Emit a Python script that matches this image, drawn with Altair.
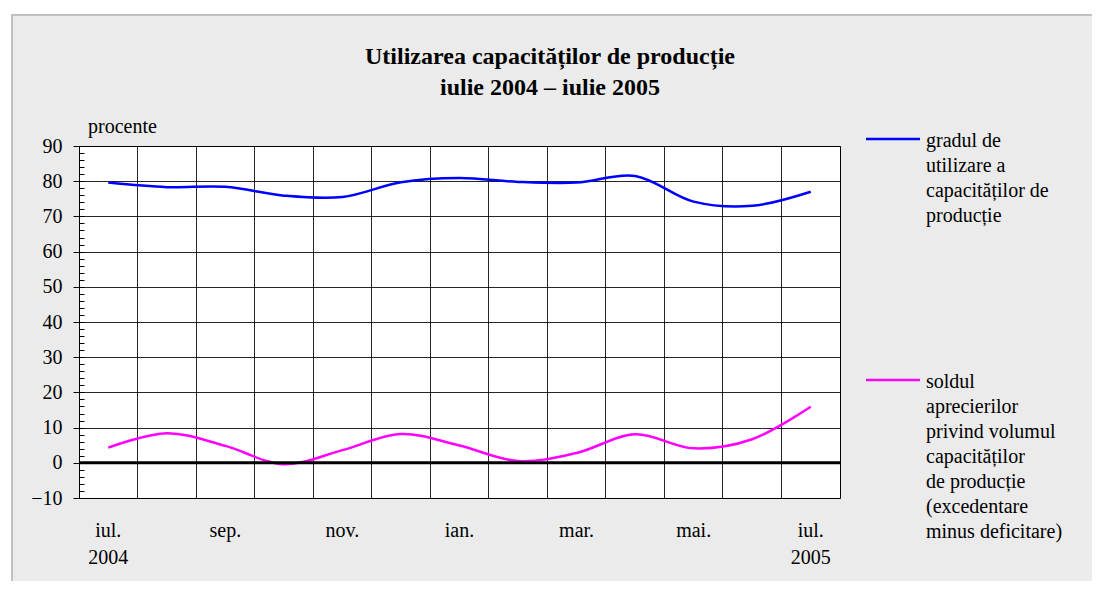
import altair as alt
import pandas as pd

# ---- data ----
months = ["2004-07", "2004-08", "2004-09", "2004-10", "2004-11", "2004-12",
          "2005-01", "2005-02", "2005-03", "2005-04", "2005-05", "2005-06", "2005-07"]
x_tick_labels = [["iul.", "2004"], [""], ["sep."], [""], ["nov."], [""], ["ian."],
                 [""], ["mar."], [""], ["mai."], [""], ["iul.", "2005"]]
utilizare = [79.6, 78.3, 78.4, 75.9, 75.5, 79.7, 80.9, 79.8, 79.6, 81.5, 74.2, 73.0, 77.0]
sold = [4.3, 8.4, 4.8, -0.4, 3.6, 8.2, 4.9, 0.5, 2.8, 8.1, 4.1, 6.7, 15.9]
series_names = ["utilizare", "sold"]
series_colors = ["#0000ff", "#ff00ff"]
legend_labels = [
    ["gradul de", "utilizare a", "capacităților de", "producție"],
    ["soldul", "aprecierilor", "privind volumul", "capacităților", "de producție",
     "(excedentare", "minus deficitare)"],
]
title_lines = ["Utilizarea capacităților de producție", "iulie 2004 – iulie 2005"]
y_unit = "procente"
y_ticks = list(range(-10, 91, 10))
y_minor = list(range(-10, 91, 2))

rows = []
for name, vals in zip(series_names, [utilizare, sold]):
    for m, v in zip(months, vals):
        rows.append({"month": m, "value": v, "series": name})
df = pd.DataFrame(rows)

W, H = 761, 352
FONT = "Liberation Serif, Times New Roman, DejaVu Serif, serif"

label_expr = "{}[indexof({}, datum.value)]".format(
    str(x_tick_labels).replace('"', "'"), str(months).replace('"', "'"))

x_enc = alt.X(
    "month:N", sort=months,
    scale=alt.Scale(type="band", domain=months, paddingInner=0, paddingOuter=0),
    axis=alt.Axis(title=None, bandPosition=0, ticks=False,
                  domain=False, grid=True, gridColor="#000", gridOpacity=0.85,
                  labelExpr=label_expr, labelFont=FONT, labelFontSize=20,
                  labelColor="black", labelBaseline="top", labelPadding=22,
                  labelLineHeight=27, labelOverlap=False, labelFlush=False,
                  labelAngle=0),
)
y_scale = alt.Scale(domain=[-10, 90], nice=False, zero=False)
y_enc = alt.Y(
    "value:Q", scale=y_scale,
    axis=alt.Axis(title=None, values=y_ticks, tickSize=6, tickColor="black",
                  domain=False, grid=True, gridColor="#000", gridOpacity=0.85,
                  labelFont=FONT, labelFontSize=20, labelColor="black",
                  labelPadding=11, orient="left"),
)

one = pd.DataFrame({"k": [0]})

# chart-area frame (white page margin strips + light grey border), drawn first
frame = [
    alt.Chart(one).mark_rect(color="white").encode(
        x=alt.value(-71), x2=alt.value(-68), y=alt.value(-138), y2=alt.value(435)),
    alt.Chart(one).mark_rect(color="white").encode(
        x=alt.value(-71), x2=alt.value(1013), y=alt.value(-138), y2=alt.value(-132)),
    alt.Chart(one).mark_rule(color="#c0c0c0", strokeWidth=2).encode(
        x=alt.value(-68), x2=alt.value(1013), y=alt.value(-131)),
    alt.Chart(one).mark_rule(color="#c0c0c0", strokeWidth=2).encode(
        x=alt.value(-67), y=alt.value(-132), y2=alt.value(435)),
]

lines = alt.Chart(df).mark_line(interpolate="catmull-rom", strokeWidth=2.5).encode(
    x=x_enc, y=y_enc,
    color=alt.Color("series:N", scale=alt.Scale(domain=series_names, range=series_colors),
                    legend=None),
)

zero_rule = alt.Chart(one).mark_rule(color="black", strokeWidth=3).encode(
    y=alt.YDatum(0, scale=y_scale,
                 axis=alt.Axis(values=y_minor, tickSize=5, offset=-5, labels=False,
                               domain=False, grid=False, tickColor="black",
                               orient="left", title=None))
)

unit_text = alt.Chart(one).mark_text(
    font=FONT, fontSize=20, align="left", baseline="alphabetic", color="black"
).encode(x=alt.value(9), y=alt.value(-13), text=alt.value(y_unit))

title_text = alt.Chart(one).mark_text(
    font=FONT, fontSize=24, fontWeight="bold", align="center", baseline="top",
    lineHeight=31, color="black"
).encode(x=alt.value(471), y=alt.value(-101), text=alt.value(title_lines))

legend_layers = []
legend_y = [-7, 234]
for color, lab, ly in zip(series_colors, legend_labels, legend_y):
    legend_layers.append(
        alt.Chart(one).mark_rule(color=color, strokeWidth=2.5).encode(
            x=alt.value(787), x2=alt.value(841), y=alt.value(ly))
    )
    legend_layers.append(
        alt.Chart(one).mark_text(font=FONT, fontSize=20, align="left", baseline="top",
                                 lineHeight=25, color="black").encode(
            x=alt.value(847), y=alt.value(ly - 8), text=alt.value(lab))
    )

chart = alt.layer(*frame, lines, zero_rule, unit_text, title_text, *legend_layers).resolve_axis(
    y="independent"
).properties(
    width=W, height=H, autosize="none",
    padding={"left": 71, "top": 138, "right": 252, "bottom": 83},
    background="#ebebeb",
).configure_view(fill="white", stroke="black", strokeWidth=1)

chart.save("out.html", embed_options={"renderer": "svg", "actions": False})
